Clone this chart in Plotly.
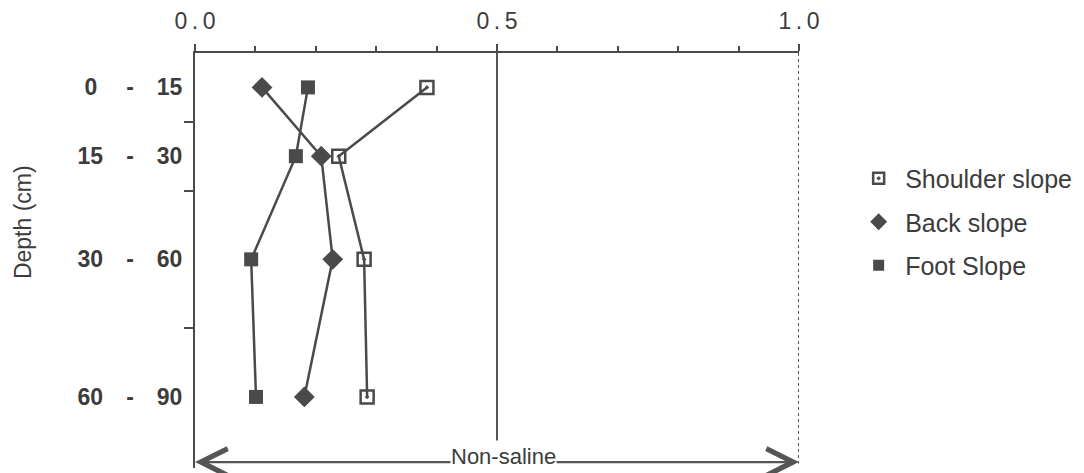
import plotly.graph_objects as go

depth_labels = ["\u20050\u2005\u2003-\u200315", "15\u2003-\u200330", "30\u2003-\u200360", "60\u2003-\u200390"]
depth_mid = [7.5, 22.5, 45, 75]
depth_bounds = [15, 30, 60]
shoulder = [0.384, 0.238, 0.280, 0.285]
back = [0.111, 0.209, 0.228, 0.181]
foot = [0.187, 0.167, 0.093, 0.101]
x_ticks = [0.0, 0.5, 1.0]
x_ticktext = ["0\u2009.\u20090", "0\u2009.\u20095", "1\u2009.\u20090"]
x_minor = [0.1, 0.2, 0.3, 0.4, 0.6, 0.7, 0.8, 0.9]

C = "#4a4a4a"
TXT = "#3c3c3c"
FONT = "Liberation Sans"
series = [
    ("Shoulder slope", shoulder, dict(symbol="square-open-dot", size=13, color=C, line=dict(width=2.5, color=C)),
     dict(symbol="square-open-dot", size=11, color=C, line=dict(width=2.5, color=C))),
    ("Back slope", back, dict(symbol="diamond", size=16, color=C), dict(symbol="diamond", size=13, color=C)),
    ("Foot Slope", foot, dict(symbol="square", size=14, color=C), dict(symbol="square", size=11, color=C)),
]

fig = go.Figure()
for i, (name, vals, mk, lmk) in enumerate(series):
    fig.add_trace(go.Scatter(x=vals, y=depth_mid, mode="lines+markers", name=name,
                             line=dict(color=C, width=2.5), marker=mk, showlegend=False,
                             cliponaxis=False))
for i, (name, vals, mk, lmk) in enumerate(series):
    fig.add_trace(go.Scatter(x=[None], y=[None], mode="markers", name=name, marker=lmk,
                             legendgroup=f"g{i}"))

fig.update_xaxes(side="top", range=[0, 1], tickmode="array", tickvals=x_ticks, ticktext=x_ticktext,
                 ticks="outside", ticklen=7, tickwidth=2, tickcolor=C,
                 showline=True, linewidth=2, linecolor=C, showgrid=False, zeroline=False,
                 minor=dict(tickmode="array", tickvals=x_minor, ticks="outside", ticklen=5, tickwidth=2, tickcolor=C),
                 tickfont=dict(family=FONT, size=23, color=TXT), ticklabelstandoff=6)
fig.update_yaxes(range=[90.5, 0], tickmode="array", tickvals=depth_mid, ticktext=depth_labels,
                 ticks="", showline=True, linewidth=2, linecolor=C, showgrid=False, zeroline=False,
                 minor=dict(tickmode="array", tickvals=depth_bounds, ticks="outside", ticklen=9, tickwidth=2, tickcolor=C),
                 tickfont=dict(family=FONT, size=23, color=TXT, weight="bold"), ticklabelstandoff=6)

# reference lines
fig.add_shape(type="line", x0=0.5, x1=0.5, y0=0, y1=84.5, xref="x", yref="y", line=dict(color="#555", width=2))
fig.add_shape(type="line", x0=1.0, x1=1.0, y0=0, y1=89.5, xref="x", yref="y", line=dict(color="#555", width=2, dash="dot"))

# Non-saline double arrow
for tip in (0.0, 1.0):
    fig.add_annotation(x=tip, y=89.2, ax=0.5, ay=89.2, axref="x", ayref="y", xref="x", yref="y",
                       text="", showarrow=True, arrowhead=5, arrowsize=2.4, arrowwidth=2.2, arrowcolor="#555")
fig.add_annotation(x=0.51, y=87.9, xref="x", yref="y", text="Non-saline", showarrow=False,
                   font=dict(family=FONT, size=22, color=TXT), bgcolor="white", borderpad=0)

fig.add_annotation(x=-0.285, y=36.9, xref="paper", yref="y", xanchor="center", yanchor="middle",
                   text="Depth (cm)", textangle=-90, showarrow=False,
                   font=dict(family=FONT, size=23, color=TXT))

fig.update_layout(width=1084, height=473, margin=dict(l=195, r=285, t=53, b=5),
                  plot_bgcolor="white", paper_bgcolor="white",
                  legend=dict(x=1.088, y=0.753, xanchor="left", yanchor="top", traceorder="grouped",
                              tracegroupgap=8, font=dict(family=FONT, size=25, color=TXT),
                              itemwidth=43, bgcolor="rgba(0,0,0,0)"))

fig.write_html("out.html", config={"displayModeBar": False},
               post_script="document.body.style.margin='0';document.body.style.overflow='hidden';")
